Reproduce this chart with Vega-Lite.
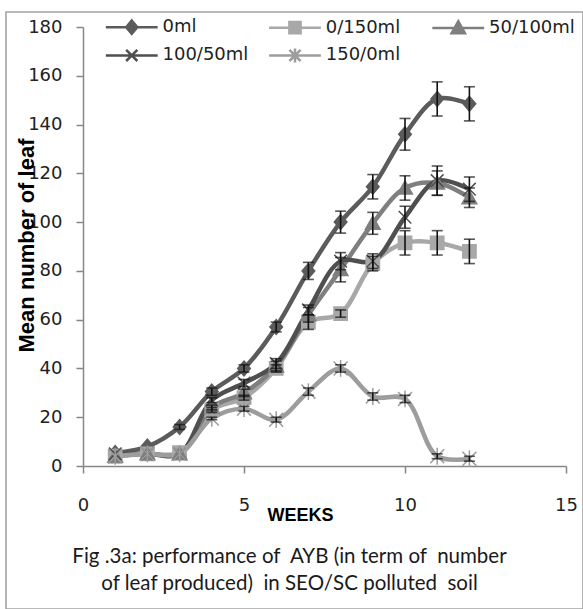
{
  "$schema": "https://vega.github.io/schema/vega-lite/v6.json",
  "width": 577,
  "height": 597,
  "autosize": {"type": "none"},
  "padding": {"left": 6, "top": 12, "right": 0, "bottom": 0},
  "background": "white",
  "title": {
    "text": ["Fig .3a: performance of \u00a0AYB (in term of \u00a0number", "of leaf produced) \u00a0in SEO/SC polluted \u00a0soil"],
    "orient": "bottom",
    "frame": "group",
    "anchor": "middle",
    "offset": -62,
    "dx": -5,
    "font": "Lato",
    "fontSize": 20.5,
    "fontWeight": "normal",
    "color": "#1a1a1a",
    "lineHeight": 27,
    "baseline": "top"
  },
  "config": {
    "view": {"stroke": "#a3a3a3", "strokeWidth": 1.6},
    "axis": {
      "grid": false,
      "domainColor": "#878787",
      "domainWidth": 1.5,
      "tickColor": "#878787",
      "tickWidth": 1.5,
      "tickSize": 7,
      "labelFont": "DejaVu Sans",
      "labelFontSize": 18,
      "labelColor": "#222222",
      "titleColor": "#000000"
    }
  },
  "data": {
    "values": [
      {"series": "0ml", "week": 1, "value": 5.3, "err": 0},
      {"series": "0ml", "week": 2, "value": 8, "err": 0},
      {"series": "0ml", "week": 3, "value": 16, "err": 1},
      {"series": "0ml", "week": 4, "value": 30.5, "err": 1.5},
      {"series": "0ml", "week": 5, "value": 40, "err": 1.5},
      {"series": "0ml", "week": 6, "value": 57, "err": 2},
      {"series": "0ml", "week": 7, "value": 80, "err": 3.5},
      {"series": "0ml", "week": 8, "value": 100, "err": 4.5},
      {"series": "0ml", "week": 9, "value": 114.5, "err": 5},
      {"series": "0ml", "week": 10, "value": 136, "err": 6.5},
      {"series": "0ml", "week": 11, "value": 150.5, "err": 7},
      {"series": "0ml", "week": 12, "value": 148.5, "err": 7},
      {"series": "0/150ml", "week": 1, "value": 4, "err": 0},
      {"series": "0/150ml", "week": 2, "value": 5, "err": 0},
      {"series": "0/150ml", "week": 3, "value": 5.5, "err": 0},
      {"series": "0/150ml", "week": 4, "value": 23, "err": 1},
      {"series": "0/150ml", "week": 5, "value": 28, "err": 1},
      {"series": "0/150ml", "week": 6, "value": 40, "err": 1.5},
      {"series": "0/150ml", "week": 7, "value": 59, "err": 3},
      {"series": "0/150ml", "week": 8, "value": 62.5, "err": 1.5},
      {"series": "0/150ml", "week": 9, "value": 83, "err": 3},
      {"series": "0/150ml", "week": 10, "value": 91.5, "err": 5},
      {"series": "0/150ml", "week": 11, "value": 91.5, "err": 5},
      {"series": "0/150ml", "week": 12, "value": 88, "err": 5},
      {"series": "50/100ml", "week": 1, "value": 4, "err": 0},
      {"series": "50/100ml", "week": 2, "value": 5, "err": 0},
      {"series": "50/100ml", "week": 3, "value": 5, "err": 0},
      {"series": "50/100ml", "week": 4, "value": 24, "err": 1},
      {"series": "50/100ml", "week": 5, "value": 30, "err": 1.5},
      {"series": "50/100ml", "week": 6, "value": 41, "err": 2},
      {"series": "50/100ml", "week": 7, "value": 62, "err": 3},
      {"series": "50/100ml", "week": 8, "value": 80.5, "err": 5},
      {"series": "50/100ml", "week": 9, "value": 99.5, "err": 4.5},
      {"series": "50/100ml", "week": 10, "value": 114, "err": 5},
      {"series": "50/100ml", "week": 11, "value": 116, "err": 5},
      {"series": "50/100ml", "week": 12, "value": 110, "err": 4},
      {"series": "100/50ml", "week": 1, "value": 5, "err": 0},
      {"series": "100/50ml", "week": 2, "value": 5, "err": 0},
      {"series": "100/50ml", "week": 3, "value": 5, "err": 0},
      {"series": "100/50ml", "week": 4, "value": 27, "err": 1},
      {"series": "100/50ml", "week": 5, "value": 34, "err": 1.5},
      {"series": "100/50ml", "week": 6, "value": 42, "err": 2},
      {"series": "100/50ml", "week": 7, "value": 64, "err": 2},
      {"series": "100/50ml", "week": 8, "value": 84, "err": 3.5},
      {"series": "100/50ml", "week": 9, "value": 84, "err": 3},
      {"series": "100/50ml", "week": 10, "value": 102, "err": 4.5},
      {"series": "100/50ml", "week": 11, "value": 117, "err": 6},
      {"series": "100/50ml", "week": 12, "value": 113.5, "err": 5},
      {"series": "150/0ml", "week": 1, "value": 4, "err": 0},
      {"series": "150/0ml", "week": 2, "value": 5, "err": 0},
      {"series": "150/0ml", "week": 3, "value": 5, "err": 0},
      {"series": "150/0ml", "week": 4, "value": 19.5, "err": 0.5},
      {"series": "150/0ml", "week": 5, "value": 23.5, "err": 1},
      {"series": "150/0ml", "week": 6, "value": 19, "err": 1},
      {"series": "150/0ml", "week": 7, "value": 30.5, "err": 1.5},
      {"series": "150/0ml", "week": 8, "value": 40, "err": 1.5},
      {"series": "150/0ml", "week": 9, "value": 28.5, "err": 1.5},
      {"series": "150/0ml", "week": 10, "value": 27.5, "err": 1.5},
      {"series": "150/0ml", "week": 11, "value": 4, "err": 1},
      {"series": "150/0ml", "week": 12, "value": 3, "err": 1}
    ]
  },
  "layer": [
    {
      "mark": {"type": "line", "strokeWidth": 4.5, "interpolate": "catmull-rom"},
      "encoding": {
        "x": {
          "field": "week", "type": "quantitative", "title": "WEEKS",
          "scale": {"domain": [0, 15], "nice": false, "range": [77, 560]},
          "axis": {
            "values": [0, 5, 10, 15],
            "offset": -143,
            "labelPadding": 23,
            "labelFlush": false,
            "titleFont": "Liberation Sans",
            "titleFontWeight": "bold",
            "titleFontSize": 18,
            "titleX": 294,
            "titleY": 49,
            "titleBaseline": "middle",
            "titleAlign": "center",
            "encode": {"labels": {"update": {"dy": {"signal": "datum.value === 5 ? -7 : 0"}}}}
          }
        },
        "y": {
          "field": "value", "type": "quantitative", "title": "Mean number of leaf",
          "scale": {"domain": [0, 180], "nice": false, "range": [454, 15]},
          "axis": {
            "values": [0, 20, 40, 60, 80, 100, 120, 140, 160, 180],
            "offset": -77,
            "labelPadding": 14,
            "titleFont": "Liberation Sans",
            "titleFontWeight": "bold",
            "titleFontSize": 22,
            "titleX": -57,
            "titleY": 233,
            "titleAngle": 270,
            "titleBaseline": "middle",
            "titleAlign": "center"
          }
        },
        "color": {
          "field": "series", "type": "nominal",
          "scale": {"domain": ["0ml", "0/150ml", "50/100ml", "100/50ml", "150/0ml"], "range": ["#5b5b5b", "#a8a8a8", "#7f7f7f", "#4f4f4f", "#9d9d9d"]},
          "legend": null
        }
      }
    },
    {
      "mark": {"type": "point", "filled": true, "opacity": 1, "strokeWidth": 1.5, "size": 196},
      "encoding": {
        "x": {"field": "week", "type": "quantitative", "title": "WEEKS"},
        "y": {"field": "value", "type": "quantitative", "title": "Mean number of leaf"},
        "fill": {
          "field": "series", "type": "nominal",
          "scale": {"domain": ["0ml", "0/150ml", "50/100ml", "100/50ml", "150/0ml"], "range": ["#5b5b5b", "#a8a8a8", "#7f7f7f", "#4f4f4f", "#9d9d9d"]},
          "legend": null
        },
        "stroke": {
          "field": "series", "type": "nominal",
          "scale": {"domain": ["0ml", "0/150ml", "50/100ml", "100/50ml", "150/0ml"], "range": ["#5b5b5b", "#a8a8a8", "#7f7f7f", "#4f4f4f", "#9d9d9d"]},
          "legend": null
        },
        "shape": {
          "field": "series", "type": "nominal",
          "scale": {
            "domain": ["0ml", "0/150ml", "50/100ml", "100/50ml", "150/0ml"],
            "range": [
              "M0,-1.05L0.9,0L0,1.05L-0.9,0Z",
              "M-0.95,-0.95H0.95V0.95H-0.95Z",
              "M0,-1L1.05,0.85H-1.05Z",
              "M-0.9,-0.9L0.9,0.9M-0.9,0.9L0.9,-0.9",
              "M-1,-1L1,1M-1,1L1,-1M0,-1.2V1.2"
            ]
          },
          "legend": null
        }
      }
    },
    {
      "transform": [{"filter": "datum.err > 0"}],
      "mark": {
        "type": "errorbar",
        "orient": "vertical",
        "ticks": {"size": 11, "thickness": 1.6, "color": "#111111"},
        "rule": {"strokeWidth": 1.6, "color": "#111111"}
      },
      "encoding": {
        "x": {"field": "week", "type": "quantitative", "title": "WEEKS"},
        "y": {"field": "value", "type": "quantitative", "title": "Mean number of leaf"},
        "yError": {"field": "err"}
      }
    },
    {
      "transform": [{"filter": "datum.week > 100"}],
      "mark": {"type": "point", "filled": true, "opacity": 1, "strokeWidth": 2.5, "size": 196},
      "encoding": {
        "x": {"field": "week", "type": "quantitative", "title": "WEEKS"},
        "y": {"field": "value", "type": "quantitative", "title": "Mean number of leaf"},
        "fill": {
          "field": "series", "type": "nominal",
          "scale": {"domain": ["0ml", "0/150ml", "50/100ml", "100/50ml", "150/0ml"], "range": ["#5b5b5b", "#a8a8a8", "#7f7f7f", "#4f4f4f", "#9d9d9d"]},
          "legend": {
            "title": null, "orient": "none", "legendX": 116.75, "legendY": 6,
            "direction": "horizontal", "columns": 3, "gridAlign": "all",
            "columnPadding": 15.25, "rowPadding": 4.4, "padding": 0,
            "symbolSize": 196, "symbolStrokeWidth": 2.5, "labelOffset": 21.75,
            "labelFont": "DejaVu Sans", "labelFontSize": 18, "labelColor": "#222222"
          }
        },
        "stroke": {
          "field": "series", "type": "nominal",
          "scale": {"domain": ["0ml", "0/150ml", "50/100ml", "100/50ml", "150/0ml"], "range": ["#5b5b5b", "#a8a8a8", "#7f7f7f", "#4f4f4f", "#9d9d9d"]},
          "legend": {
            "title": null, "orient": "none", "legendX": 116.75, "legendY": 6,
            "direction": "horizontal", "columns": 3, "gridAlign": "all",
            "columnPadding": 15.25, "rowPadding": 4.4, "padding": 0,
            "symbolSize": 196, "symbolStrokeWidth": 2.5, "labelOffset": 21.75,
            "labelFont": "DejaVu Sans", "labelFontSize": 18, "labelColor": "#222222"
          }
        },
        "shape": {
          "field": "series", "type": "nominal",
          "scale": {
            "domain": ["0ml", "0/150ml", "50/100ml", "100/50ml", "150/0ml"],
            "range": [
              "M-3.7,0H3.7M0,-0.95L0.8,0L0,0.95L-0.8,0Z",
              "M-3.7,0H3.7M-0.8,-0.8H0.8V0.8H-0.8Z",
              "M-3.7,0H3.7M0,-0.95L0.95,0.75H-0.95Z",
              "M-3.7,0H3.7M-0.8,-0.8L0.8,0.8M-0.8,0.8L0.8,-0.8",
              "M-3.7,0H3.7M-0.8,-0.8L0.8,0.8M-0.8,0.8L0.8,-0.8M0,-1V1"
            ]
          },
          "legend": {
            "title": null, "orient": "none", "legendX": 116.75, "legendY": 6,
            "direction": "horizontal", "columns": 3, "gridAlign": "all",
            "columnPadding": 15.25, "rowPadding": 4.4, "padding": 0,
            "symbolSize": 196, "symbolStrokeWidth": 2.5, "labelOffset": 21.75,
            "labelFont": "DejaVu Sans", "labelFontSize": 18, "labelColor": "#222222"
          }
        }
      }
    }
  ],
  "resolve": {"scale": {"color": "independent", "fill": "independent", "stroke": "independent", "shape": "independent"}}
}
